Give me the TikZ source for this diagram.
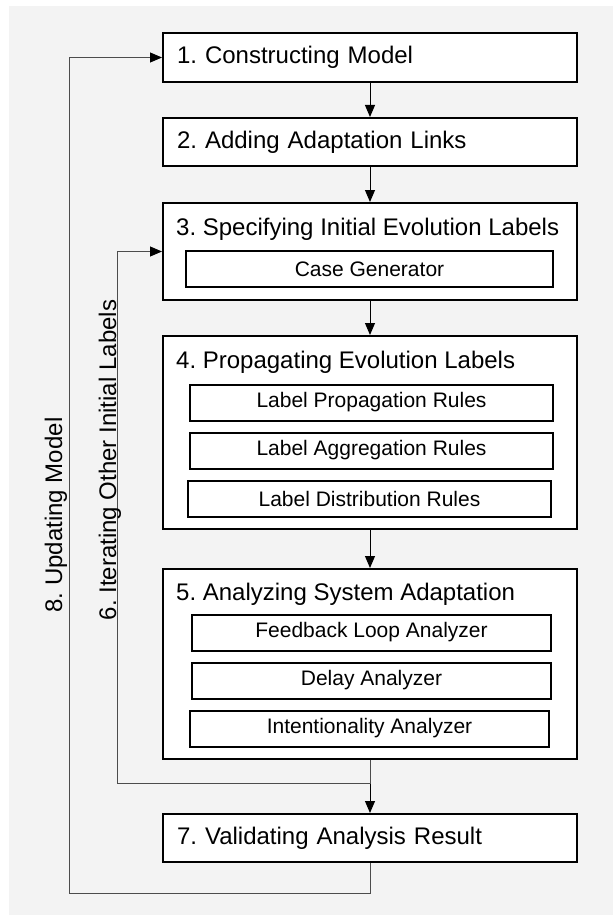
\documentclass[tikz,border=0pt]{standalone}
\usepackage{fontspec}
\setmainfont{Liberation Sans}
\usetikzlibrary{arrows.meta,positioning}

\definecolor{panel}{HTML}{F3F3F3}

\tikzset{
  stepbox/.style={draw=black, line width=2pt, fill=white, minimum width=414pt,
    inner xsep=14pt, inner ysep=0pt, font=\fontsize{24}{28}\selectfont},
  steptitle/.style={inner sep=0pt, font=\fontsize{24}{28}\selectfont},
  subbox/.style={draw=black, line width=2pt, fill=white, minimum width=363pt,
    minimum height=36pt, inner sep=0pt, font=\fontsize{21}{25}\selectfont},
  flow/.style={black, line width=1pt, -{Triangle[length=12pt,width=10pt]}},
  backflow/.style={black!70, line width=1pt,
    -{Triangle[length=12pt,width=10pt,color=black,fill=black]}},
  sidelabel/.style={rotate=90, inner sep=0pt, font=\fontsize{24}{28}\selectfont}
}

\begin{document}
\frenchspacing
\begin{tikzpicture}[x=1pt, y=-1pt]

    % Fundo
    \fill[white] (0,0) rectangle (613,915);
    \fill[panel] (9,6) rectangle (613,915);

    % Passos simples
    \node[stepbox, minimum height=49pt, text width=386pt, align=left] (step1) at (370,57.5) {1. Constructing Model};
    \node[stepbox, minimum height=48pt, text width=386pt, align=left] (step2) at (370,142) {2. Adding Adaptation Links};

    % Passo 3
    \node[stepbox, minimum height=97pt] (step3) at (370,251.5) {};
    \node[steptitle, anchor=base west] (title3) at ([shift={(14pt,-33pt)}]step3.north west) {3. Specifying Initial Evolution Labels};
    \node[subbox, minimum width=367pt] (casegen) at (369.5,269) {Case Generator};

    % Passo 4
    \node[stepbox, minimum height=193pt] (step4) at (370,432.5) {};
    \node[steptitle, anchor=base west] (title4) at ([shift={(14pt,-33pt)}]step4.north west) {4. Propagating Evolution Labels};
    \node[subbox] (proprule) at (371.5,402.5) {Label Propagation Rules};
    \node[subbox, below=10pt of proprule] (aggrule) {Label Aggregation Rules};
    \node[subbox, below=10pt of aggrule, xshift=-2pt] (distrule) {Label Distribution Rules};

    % Passo 5
    \node[stepbox, minimum height=190pt] (step5) at (370,664) {};
    \node[steptitle, anchor=base west] (title5) at ([shift={(14pt,-32pt)}]step5.north west) {5. Analyzing System Adaptation};
    \node[subbox, minimum width=359pt] (fbloop) at (371.5,632.5) {Feedback Loop Analyzer};
    \node[subbox, minimum width=359pt, below=10pt of fbloop] (delay) {Delay Analyzer};
    \node[subbox, minimum width=359pt, below=10pt of delay, xshift=-2pt] (intent) {Intentionality Analyzer};

    % Passo 7
    \node[stepbox, minimum height=48pt, text width=386pt, align=left] (step7) at (370,838) {7. Validating Analysis Result};

    % Fluxo principal
    \draw[flow] (step1) -- (step2);
    \draw[flow] (step2) -- (step3);
    \draw[flow] (step3) -- (step4);
    \draw[flow] (step4) -- (step5);
    \draw[flow] (step5) -- (step7);

    % Laços de retorno
    \coordinate (turn6) at (117,783);
    \coordinate (turn8) at (69,893);
    \draw[backflow] (step5.south) |- (turn6) |- (step3.west);
    \draw[backflow] (step7.south) |- (turn8) |- (step1.west);

    % Rótulos dos laços
    \node[sidelabel, anchor=base] (iterlabel) at (116,460) {6. Iterating Other Initial Labels};
    \node[sidelabel, anchor=base] (updlabel) at (62,515) {8. Updating Model};

\end{tikzpicture}
\end{document}
